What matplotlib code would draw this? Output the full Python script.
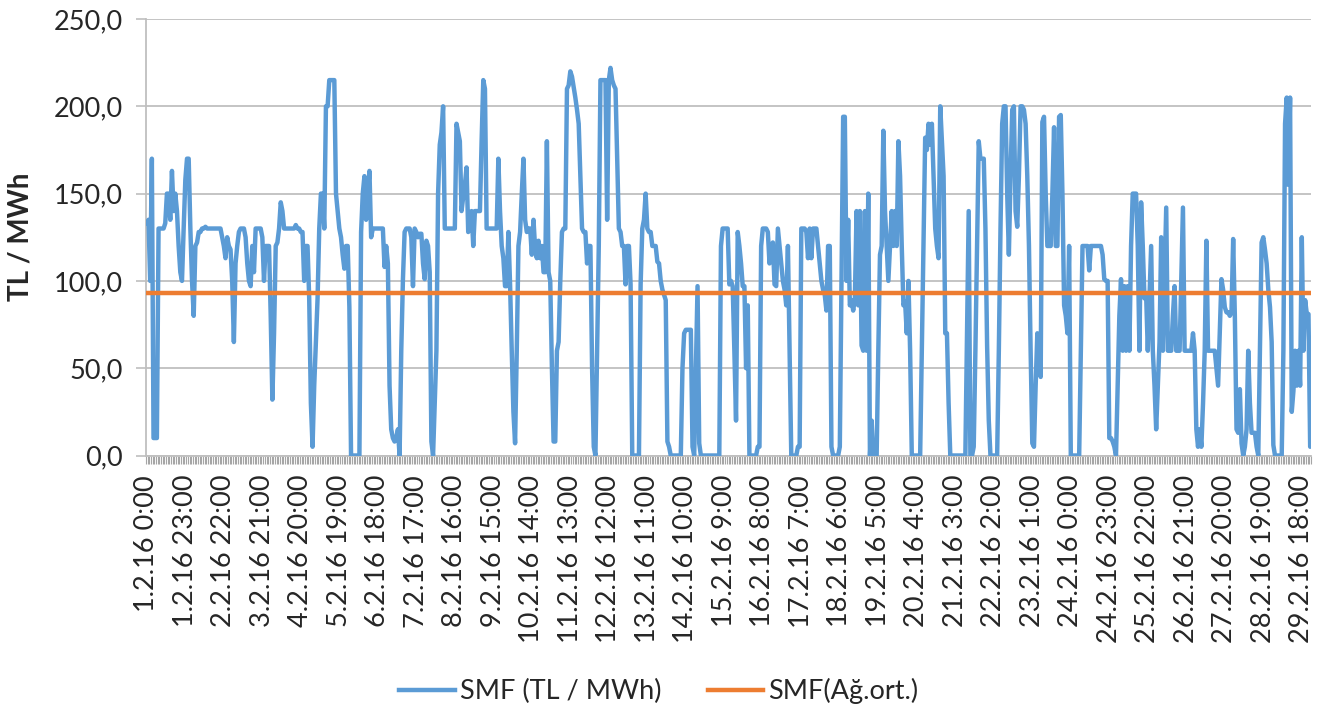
import numpy as np
import matplotlib
matplotlib.use("Agg")
import matplotlib.pyplot as plt
from matplotlib.lines import Line2D

plt.rcParams['font.family'] = ['Lato', 'DejaVu Sans']

# Hourly SMF values (TL/MWh), February 2016, one list per day (24 h each)
day01 = [133, 135, 100, 170, 10, 10, 10, 130, 130, 130, 130, 133, 150, 150, 135, 163, 140, 150, 140, 120, 105, 100, 130, 158]
day02 = [170, 170, 130, 100, 80, 120, 122, 128, 128, 130, 130, 131, 130, 130, 130, 130, 130, 130, 130, 130, 130, 125, 120, 113]
day03 = [125, 120, 118, 100, 65, 110, 120, 128, 130, 130, 130, 125, 110, 100, 97, 120, 105, 130, 130, 130, 130, 125, 100, 120]
day04 = [120, 120, 80, 32, 70, 120, 122, 130, 145, 140, 130, 130, 130, 130, 130, 130, 130, 132, 130, 130, 128, 128, 100, 120]
day05 = [120, 90, 30, 5, 40, 65, 90, 130, 150, 150, 130, 200, 200, 215, 215, 215, 215, 150, 140, 130, 125, 115, 107, 120]
day06 = [120, 85, 0, 0, 0, 0, 0, 0, 128, 150, 160, 135, 150, 163, 125, 130, 130, 130, 130, 130, 130, 130, 108, 120]
day07 = [110, 40, 15, 10, 8, 10, 15, 0, 60, 101, 128, 130, 130, 130, 125, 97, 130, 128, 125, 127, 127, 110, 101, 123]
day08 = [120, 105, 8, 0, 30, 60, 150, 178, 185, 200, 130, 130, 130, 130, 130, 130, 130, 190, 185, 180, 140, 148, 155, 165]
day09 = [128, 130, 140, 120, 140, 140, 140, 140, 180, 215, 210, 130, 130, 130, 130, 130, 130, 130, 170, 140, 120, 113, 97, 97]
day10 = [128, 98, 60, 25, 7, 60, 120, 128, 150, 170, 135, 128, 130, 130, 115, 135, 118, 113, 123, 113, 120, 105, 105, 180]
day11 = [105, 100, 50, 8, 8, 60, 65, 100, 128, 130, 130, 210, 212, 220, 217, 211, 205, 198, 190, 160, 130, 128, 128, 110]
day12 = [120, 120, 50, 5, 0, 60, 120, 215, 215, 215, 215, 135, 215, 222, 215, 212, 210, 170, 130, 128, 120, 120, 98, 120]
day13 = [120, 98, 0, 0, 0, 0, 0, 98, 130, 135, 150, 130, 128, 128, 120, 120, 120, 111, 110, 100, 95, 92, 89, 8]
day14 = [5, 0, 0, 0, 0, 0, 0, 0, 50, 70, 72, 72, 72, 72, 5, 0, 50, 97, 7, 0, 0, 0, 0, 0]
day15 = [0, 0, 0, 0, 0, 0, 0, 120, 130, 130, 130, 130, 98, 100, 97, 60, 20, 128, 120, 110, 97, 97, 50, 86]
day16 = [0, 0, 0, 0, 0, 5, 5, 120, 130, 130, 130, 128, 110, 120, 122, 98, 97, 130, 120, 110, 100, 95, 86, 120]
day17 = [60, 0, 0, 0, 0, 5, 5, 130, 130, 130, 128, 113, 130, 113, 130, 130, 130, 120, 110, 100, 95, 92, 83, 120]
day18 = [120, 5, 0, 0, 0, 0, 5, 100, 194, 194, 100, 135, 86, 89, 83, 90, 140, 86, 140, 63, 60, 140, 60, 150]
day19 = [0, 20, 0, 0, 0, 60, 115, 120, 186, 140, 120, 100, 120, 140, 120, 140, 120, 180, 160, 120, 86, 88, 70, 100]
day20 = [60, 0, 0, 0, 0, 0, 0, 60, 120, 182, 175, 190, 178, 190, 160, 130, 120, 113, 200, 180, 160, 70, 70, 30]
day21 = [0, 0, 0, 0, 0, 0, 0, 0, 0, 0, 70, 140, 0, 0, 5, 60, 120, 180, 170, 170, 170, 130, 63, 20]
day22 = [0, 0, 0, 0, 0, 60, 130, 190, 200, 200, 150, 115, 160, 198, 200, 140, 131, 160, 200, 200, 198, 190, 160, 120]
day23 = [60, 7, 5, 40, 70, 60, 45, 191, 194, 150, 120, 120, 120, 150, 188, 120, 120, 194, 195, 150, 86, 80, 70, 120]
day24 = [0, 0, 0, 0, 0, 0, 60, 120, 120, 120, 120, 106, 120, 120, 120, 120, 120, 120, 120, 115, 101, 100, 100, 10]
day25 = [10, 8, 5, 0, 40, 80, 101, 60, 97, 60, 97, 60, 120, 150, 150, 150, 120, 60, 145, 120, 90, 92, 60, 90]
day26 = [120, 60, 40, 15, 40, 65, 125, 60, 100, 142, 60, 60, 60, 80, 97, 60, 60, 60, 100, 142, 60, 60, 60, 60]
day27 = [60, 70, 60, 15, 5, 15, 5, 30, 60, 123, 60, 60, 60, 60, 60, 50, 40, 70, 101, 95, 85, 82, 82, 80]
day28 = [82, 124, 80, 15, 13, 38, 7, 0, 5, 15, 60, 30, 13, 13, 13, 5, 0, 60, 122, 125, 118, 110, 95, 85]
day29 = [65, 6, 0, 0, 0, 0, 0, 60, 190, 205, 155, 205, 25, 37, 60, 40, 60, 40, 125, 60, 89, 81, 81, 5]

smf_weighted_avg = 93.3

tick_labels = ["1.2.16 0:00", "1.2.16 23:00", "2.2.16 22:00", "3.2.16 21:00", "4.2.16 20:00",
               "5.2.16 19:00", "6.2.16 18:00", "7.2.16 17:00", "8.2.16 16:00", "9.2.16 15:00",
               "10.2.16 14:00", "11.2.16 13:00", "12.2.16 12:00", "13.2.16 11:00", "14.2.16 10:00",
               "15.2.16 9:00", "16.2.16 8:00", "17.2.16 7:00", "18.2.16 6:00", "19.2.16 5:00",
               "20.2.16 4:00", "21.2.16 3:00", "22.2.16 2:00", "23.2.16 1:00", "24.2.16 0:00",
               "24.2.16 23:00", "25.2.16 22:00", "26.2.16 21:00", "27.2.16 20:00", "28.2.16 19:00",
               "29.2.16 18:00"]
tick_step = 23

days = [day01, day02, day03, day04, day05, day06, day07, day08, day09, day10,
        day11, day12, day13, day14, day15, day16, day17, day18, day19, day20,
        day21, day22, day23, day24, day25, day26, day27, day28, day29]
smf = np.concatenate([np.array(d, dtype=float) for d in days])
n = len(smf)
x = np.arange(n)

W, H = 1331, 713
fig = plt.figure(figsize=(W / 100, H / 100), dpi=100)
ax = fig.add_axes([146 / W, 1 - 455.5 / H, 1165 / W, 436.5 / H])

blue = '#5B9BD5'
orange = '#ED7D31'
grid_c = '#BFBFBF'
text_c = '#262626'

ax.plot(x, smf, color=blue, lw=3.2, solid_joinstyle='round', solid_capstyle='round', zorder=3)
ax.plot(x, np.full(n, smf_weighted_avg), color=orange, lw=3.2, zorder=4)

ax.set_xlim(-0.5, n - 0.5)
ax.set_ylim(0, 250)
ax.set_yticks(np.arange(0, 251, 50))
ax.set_yticklabels([f"{v:.1f}".replace('.', ',') for v in np.arange(0, 251, 50)])
ax.yaxis.grid(True, color=grid_c, lw=1.3)
ax.set_axisbelow(True)

ax.set_xticks(np.arange(0, n, tick_step)[:len(tick_labels)])
ax.set_xticklabels(tick_labels, rotation=90)
ax.set_xticks(np.arange(-0.5, n, 1), minor=True)
ax.tick_params(axis='x', which='major', length=0, pad=14, labelsize=19.5, labelcolor=text_c)
ax.tick_params(axis='x', which='minor', length=6, width=0.8, color='#A6A6A6', direction='out')
ax.tick_params(axis='y', which='major', length=7, width=1.2, color=grid_c, pad=10,
               labelsize=19.5, labelcolor=text_c)

for s in ['top', 'right']:
    ax.spines[s].set_visible(False)
for s in ['left', 'bottom']:
    ax.spines[s].set_color(grid_c)
    ax.spines[s].set_linewidth(1.3)

ax.set_ylabel("TL / MWh", fontsize=20, fontweight='bold', color=text_c, labelpad=14)

handles = [Line2D([], [], color=blue, lw=3.2), Line2D([], [], color=orange, lw=3.2)]
fig.legend(handles, ["SMF (TL / MWh)", "SMF(Ağ.ort.)"], loc='center',
           bbox_to_anchor=(0.495, 1 - 691 / H), ncol=2, frameon=False,
           fontsize=19.5, handlelength=2.05, handletextpad=0.2, columnspacing=1.7,
           labelcolor=text_c)

fig.savefig("out.png", dpi=100)
